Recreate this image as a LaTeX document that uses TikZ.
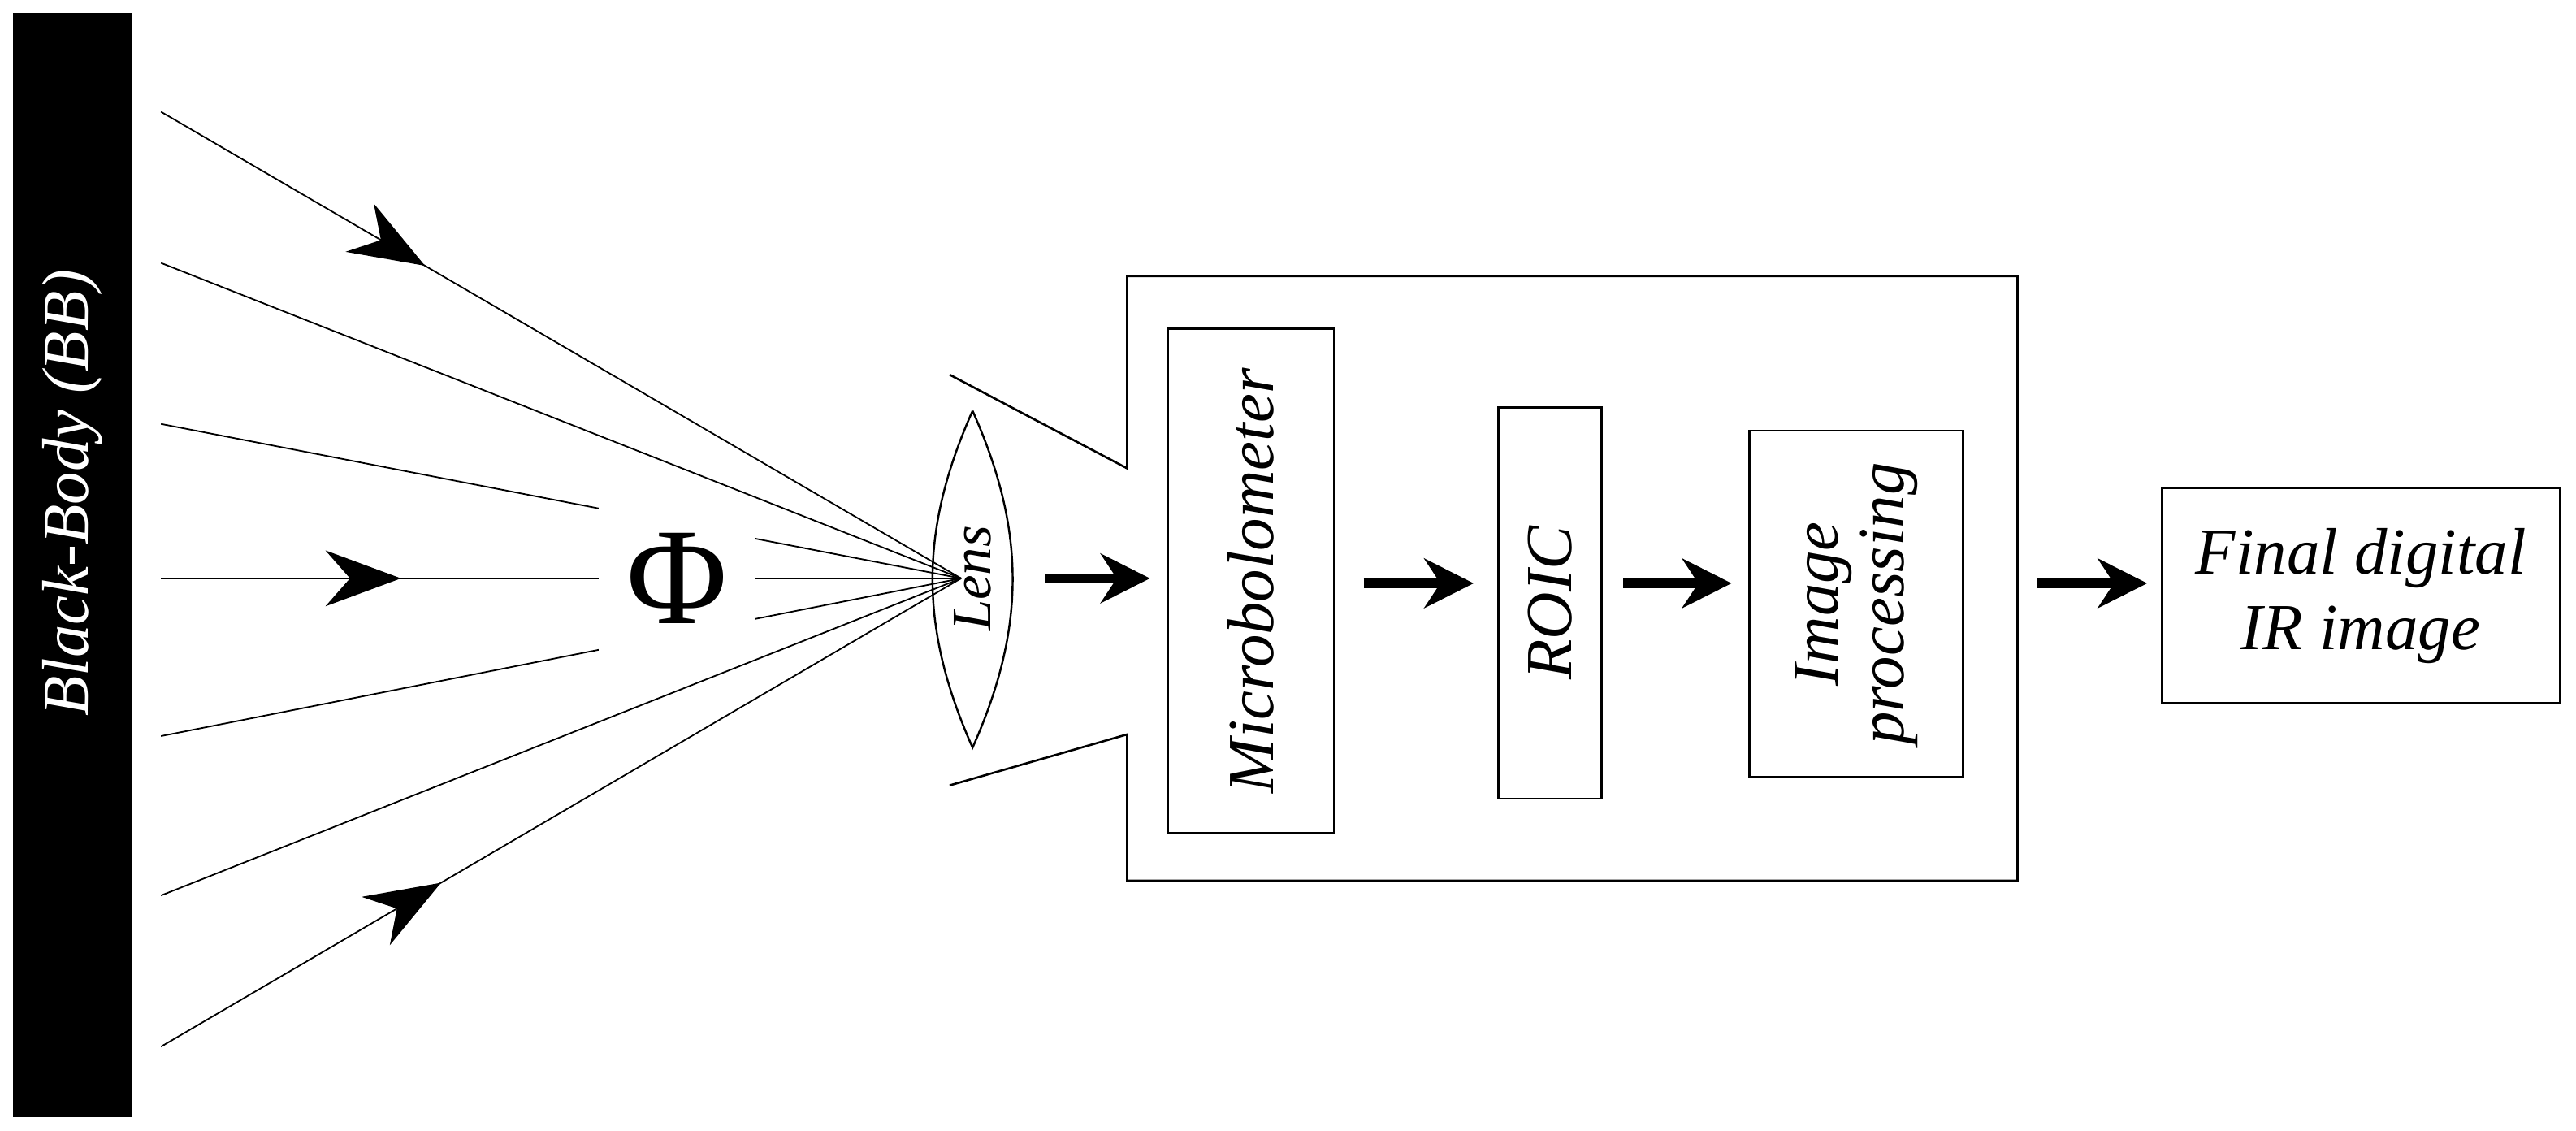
\documentclass[tikz,border=0pt]{standalone}
\usepackage{fontspec}
\setmainfont{Liberation Serif}
\usetikzlibrary{arrows.meta,decorations.markings}
\begin{document}
\begin{tikzpicture}[x=1pt,y=-1pt,
  ray/.style={line width=0.9pt},
  rayarr/.style={ray,postaction={decorate},decoration={markings,mark=at position #1 with {\arrow{Stealth[length=46pt,width=34pt]}}}},
  box/.style={draw,line width=1.3pt,inner sep=0pt},
  big/.style={line width=6pt,-{Stealth[length=30pt,width=30pt]}},
  lbl/.style={font=\fontsize{40}{46}\selectfont\itshape,align=center}]
\useasboundingbox (0,0) rectangle (1568,688);
\fill (8,8) rectangle (80,680);
\node[rotate=90,text=white,lbl] (bb) at (44,300) {Black-Body (BB)};
\coordinate (f) at (585,352);
\draw[rayarr=0.33] (98,68) coordinate (s1) -- (f);
\draw[ray] (98,160) coordinate (s2) -- (f);
\draw[ray] (98,545) coordinate (s6) -- (f);
\draw[rayarr=0.35] (98,637) coordinate (s7) -- (f);
\draw[ray] (98,258) coordinate (s3) -- (f);
\draw[rayarr=0.3] (98,352) coordinate (s4) -- (f);
\draw[ray] (98,448) coordinate (s5) -- (f);
\node[fill=white,minimum width=95pt,minimum height=92pt,inner sep=0pt,font=\fontsize{84}{90}\selectfont] (phi) at (412,352) {Φ};
% lens
\draw[line width=1.2pt] (592,250) coordinate (lt) to[bend right=24] (592,455) coordinate (lb) to[bend right=24] (lt);
\node[rotate=90,lbl,font=\fontsize{34}{40}\selectfont\itshape] (lens) at (592,352) {Lens};
% housing
\draw[line width=1.3pt] (578,228) -- (686,285) -- (686,168) -- (1228,168) -- (1228,536) -- (686,536) -- (686,447) -- (578,478);
\node[box,minimum width=101pt,minimum height=307pt] (mb) at (761.5,353.5) {};
\node[rotate=90,lbl] at (mb) {Microbolometer};
\node[box,minimum width=63pt,minimum height=238pt] (roic) at (943.5,367) {};
\node[rotate=90,lbl] at (roic) {ROIC};
\node[box,minimum width=130pt,minimum height=211pt] (ip) at (1130,367.5) {};
\node[rotate=90,lbl,font=\fontsize{40}{40}\selectfont\itshape] at (ip) {Image\\processing};
\node[box,minimum width=242pt,minimum height=131pt,lbl] (fin) at (1437,362.5) {Final digital\\IR image};
\draw[big] (636,352) -- (700,352);
\draw[big] (830,355) -- (897,355);
\draw[big] (988,355) -- (1054,355);
\draw[big] (1240,355) -- (1307,355);
\end{tikzpicture}
\end{document}
